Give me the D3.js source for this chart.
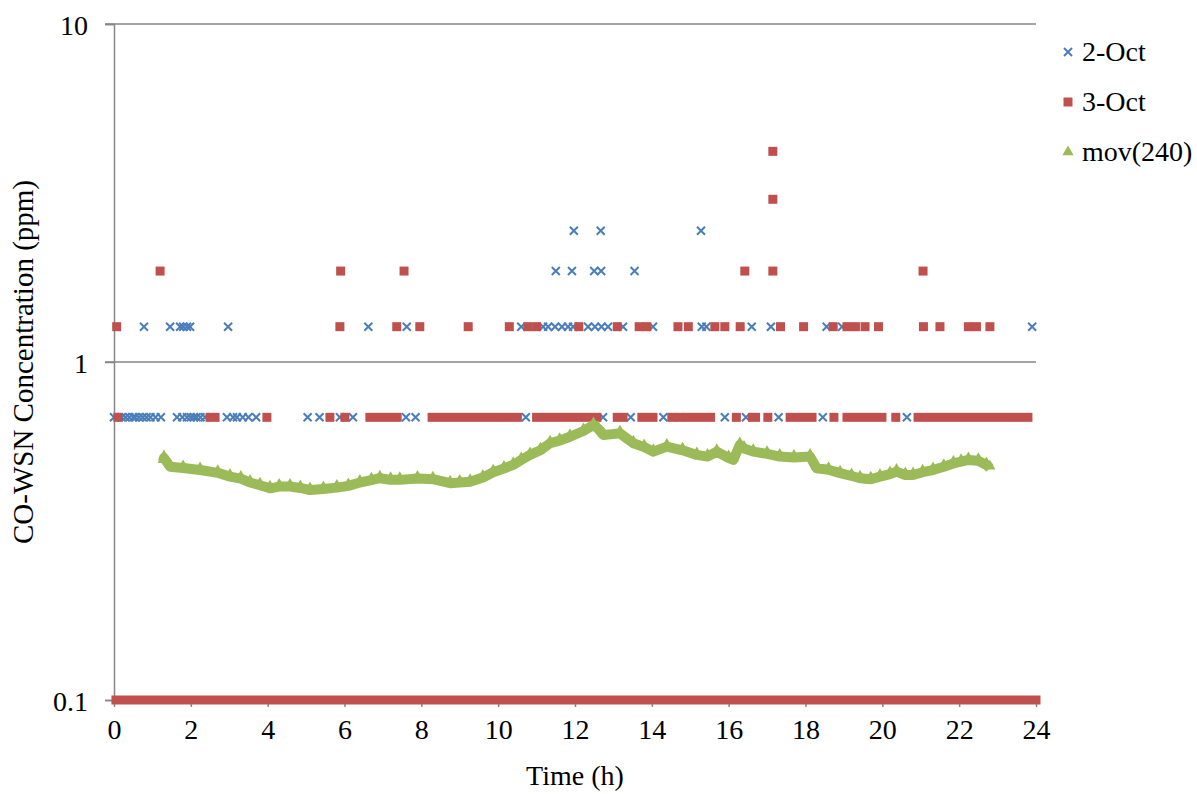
<!DOCTYPE html>
<html>
<head>
<meta charset="utf-8">
<script src="https://cdn.jsdelivr.net/npm/d3@7"></script>
<style>
    html, body { margin: 0; padding: 0; background: #fff; }
</style>
</head>
<body>
<div id="chart"></div>
<script>
// CO-WSN concentration over a day, log scale

const FONT = '"Liberation Serif", "Times New Roman", serif';

// sensor output comes in steps of ~0.586 ppm above the 0.1 floor
const LEVELS = [0.1, 0.686, 1.272, 1.858, 2.444, 3.03, 4.2];

const X_TICKS = [0, 2, 4, 6, 8, 10, 12, 14, 16, 18, 20, 22, 24];
const Y_TICKS = [0.1, 1, 10];

// 2-Oct: hour of each reading, grouped by level
const oct2Level1 = [0.0, 0.2, 0.3, 0.4, 0.5, 0.55, 0.65, 0.75, 0.85, 0.95, 1.08, 1.22,
    1.64, 1.78, 1.9, 2.0, 2.08, 2.15, 2.25, 2.37, 2.94, 3.1, 3.2, 3.35, 3.5, 3.7,
    5.04, 5.35, 5.88, 6.22, 7.6, 7.85, 10.72, 12.73, 13.45, 14.3, 14.73, 15.9,
    16.45, 17.3, 18.45, 20.64];
const oct2Level2 = [0.78, 1.46, 1.72, 1.8, 1.9, 1.98, 2.97, 6.62, 7.62, 10.6, 11.17,
    11.3, 11.48, 11.66, 11.82, 11.95, 12.34, 12.52, 12.69, 12.86, 13.25, 14.03,
    15.3, 15.42, 16.6, 17.1, 18.55, 18.95, 23.9];
const oct2Level3 = [11.5, 11.92, 12.5, 12.68, 13.55];
const oct2Level4 = [11.97, 12.67, 15.28];

// 3-Oct: continuous runs of readings [from, to] per level
const oct3Level0Runs = [[0.05, 24]];
const oct3Level1Runs = [[0.1, 0.1], [2.5, 2.63], [3.98, 3.98], [5.62, 5.62], [6.01, 6.01],
    [6.66, 7.37], [8.28, 10.5], [11.0, 12.57], [13.1, 13.25], [13.74, 14.03],
    [14.52, 15.53], [16.2, 16.2], [16.62, 16.7], [17.02, 17.02], [17.6, 18.17],
    [18.74, 18.74], [19.08, 19.99], [20.35, 20.35], [20.93, 23.79]];
const oct3Level2 = [0.07, 5.88, 7.36, 7.96, 9.22, 10.29, 10.77, 11.0, 12.1, 13.1,
    13.67, 13.87, 14.68, 14.95, 15.64, 15.9, 16.3, 17.35, 17.95, 18.72, 19.08,
    19.3, 19.55, 19.9, 21.07, 21.5, 22.24, 22.45, 22.8];
const oct3Level3 = [1.2, 5.9, 7.55, 16.42, 17.15, 21.06];
const oct3Level5 = [17.15];
const oct3Level6 = [17.15];

// mov(240) moving average
const movHours = [1.28, 1.3, 1.46, 1.8, 2.24, 2.7, 3.02, 3.3, 3.54, 3.8, 4.06, 4.3,
    4.58, 4.85, 5.1, 5.45, 5.8, 6.1, 6.4, 6.7, 6.92, 7.2, 7.44, 7.9, 8.3, 8.75,
    9.0, 9.27, 9.6, 9.87, 10.15, 10.39, 10.6, 10.83, 11.1, 11.35, 11.6, 11.87,
    12.22, 12.48, 12.6, 12.74, 13.17, 13.52, 13.8, 14.04, 14.39, 14.8, 15.17,
    15.45, 15.69, 16.0, 16.12, 16.29, 16.4, 16.64, 17.0, 17.33, 17.7, 18.12,
    18.29, 18.6, 18.9, 19.2, 19.42, 19.7, 19.94, 20.2, 20.37, 20.6, 20.8, 21.05,
    21.32, 21.6, 21.85, 22.05, 22.24, 22.5, 22.71, 22.8];
const movValues = [0.507, 0.52, 0.49, 0.486, 0.479, 0.47, 0.458, 0.452, 0.44, 0.432,
    0.423, 0.428, 0.428, 0.424, 0.418, 0.421, 0.425, 0.43, 0.44, 0.447, 0.453,
    0.448, 0.448, 0.452, 0.45, 0.438, 0.44, 0.442, 0.455, 0.472, 0.484, 0.496,
    0.513, 0.531, 0.548, 0.575, 0.585, 0.601, 0.625, 0.651, 0.635, 0.608, 0.615,
    0.575, 0.56, 0.543, 0.562, 0.548, 0.531, 0.525, 0.543, 0.52, 0.513, 0.568,
    0.555, 0.543, 0.535, 0.525, 0.522, 0.525, 0.485, 0.48, 0.469, 0.46, 0.453,
    0.45, 0.458, 0.466, 0.474, 0.463, 0.463, 0.472, 0.479, 0.49, 0.501, 0.507,
    0.513, 0.51, 0.496, 0.485];

const BLUE = '#4a7ebb';
const RED = '#c0504d';
const GREEN = '#9bbb59';
const AXIS = '#868686';

const width = 1197;
const height = 794;
const margin = { top: 24, right: 161, bottom: 94, left: 114 };

const svg = d3.select('#chart')
    .append('svg')
    .attr('width', width)
    .attr('height', height)
    .attr('font-family', FONT);

const x = d3.scaleLinear()
    .domain([0, 24])
    .range([margin.left, width - margin.right]);

const y = d3.scaleLog()
    .domain([0.1, 10])
    .range([height - margin.bottom, margin.top]);

// gridlines
svg.append('g')
    .selectAll('line')
    .data(Y_TICKS.slice(1))
    .enter()
    .append('line')
    .attr('x1', x(0) - 9)
    .attr('x2', x(24))
    .attr('y1', d => y(d))
    .attr('y2', d => y(d))
    .attr('stroke', AXIS)
    .attr('stroke-width', 1.5);

// y axis
const yAxis = svg.append('g')
    .attr('transform', `translate(${x(0)},0)`)
    .call(d3.axisLeft(y).tickValues(Y_TICKS).tickFormat(d3.format('~g')).tickSize(9).tickPadding(17));
yAxis.attr('font-family', FONT).attr('font-size', 28);
yAxis.select('.domain').attr('stroke', AXIS).attr('stroke-width', 1.5);
yAxis.selectAll('.tick line').attr('stroke', AXIS).attr('stroke-width', 1.5);
yAxis.selectAll('.tick text')
    .attr('fill', '#000')
    .attr('dy', '0.36em');

// x axis
const xAxis = svg.append('g')
    .attr('transform', `translate(0,${y(0.1)})`)
    .call(d3.axisBottom(x).tickValues(X_TICKS).tickSize(7).tickPadding(12).tickSizeOuter(0));
xAxis.attr('font-family', FONT).attr('font-size', 28);
xAxis.select('.domain').attr('stroke', AXIS).attr('stroke-width', 1.5);
xAxis.selectAll('.tick line').attr('stroke', AXIS).attr('stroke-width', 1.5);
xAxis.selectAll('.tick text')
    .attr('fill', '#000')
    .attr('dy', '0.71em');

// axis titles
svg.append('text')
    .attr('x', (x(0) + x(24)) / 2)
    .attr('y', 785)
    .attr('text-anchor', 'middle')
    .attr('font-size', 28)
    .text('Time (h)');

svg.append('text')
    .attr('transform', `translate(33,${y(1)}) rotate(-90)`)
    .attr('text-anchor', 'middle')
    .attr('font-size', 29)
    .text('CO-WSN Concentration (ppm)');

const plot = svg.append('g');

// 2-Oct crosses
const crossPath = 'M-4,-4L4,4M-4,4L4,-4';
const oct2Points = [
    ...oct2Level1.map(t => [t, LEVELS[1]]),
    ...oct2Level2.map(t => [t, LEVELS[2]]),
    ...oct2Level3.map(t => [t, LEVELS[3]]),
    ...oct2Level4.map(t => [t, LEVELS[4]])
];
plot.append('g')
    .selectAll('path')
    .data(oct2Points)
    .enter()
    .append('path')
    .attr('d', crossPath)
    .attr('transform', d => `translate(${x(d[0])},${y(d[1])})`)
    .attr('stroke', BLUE)
    .attr('stroke-width', 2)
    .attr('fill', 'none');

// 3-Oct squares, runs of touching squares drawn as one band
const sq = 9;
const oct3Runs = [
    ...oct3Level0Runs.map(r => [r[0], r[1], LEVELS[0]]),
    ...oct3Level1Runs.map(r => [r[0], r[1], LEVELS[1]]),
    ...oct3Level2.map(t => [t, t, LEVELS[2]]),
    ...oct3Level3.map(t => [t, t, LEVELS[3]]),
    ...oct3Level5.map(t => [t, t, LEVELS[5]]),
    ...oct3Level6.map(t => [t, t, LEVELS[6]])
];
plot.append('g')
    .selectAll('rect')
    .data(oct3Runs)
    .enter()
    .append('rect')
    .attr('x', d => x(d[0]) - sq / 2)
    .attr('y', d => y(d[2]) - sq / 2)
    .attr('width', d => x(d[1]) - x(d[0]) + sq)
    .attr('height', sq)
    .attr('fill', RED);

// mov(240)
const movData = movHours.map((t, i) => [t, movValues[i]]);
const line = d3.line()
    .x(d => x(d[0]))
    .y(d => y(d[1]));
plot.append('path')
    .datum(movData)
    .attr('d', line)
    .attr('fill', 'none')
    .attr('stroke', GREEN)
    .attr('stroke-width', 10)
    .attr('stroke-linejoin', 'round');

const tri = d3.symbol().type(d3.symbolTriangle).size(55);
plot.append('g')
    .selectAll('path')
    .data(movData)
    .enter()
    .append('path')
    .attr('d', tri)
    .attr('transform', d => `translate(${x(d[0])},${y(d[1]) - 2})`)
    .attr('fill', GREEN);

// legend
const legendItems = [
    { label: '2-Oct', kind: 'cross' },
    { label: '3-Oct', kind: 'square' },
    { label: 'mov(240)', kind: 'triangle' }
];
const legend = svg.append('g')
    .attr('transform', 'translate(1068,52)');
legendItems.forEach((item, i) => {
    const g = legend.append('g').attr('transform', `translate(0,${i * 50})`);
    if (item.kind === 'cross') {
        g.append('path').attr('d', crossPath)
            .attr('stroke', BLUE).attr('stroke-width', 2).attr('fill', 'none');
    } else if (item.kind === 'square') {
        g.append('rect').attr('x', -sq / 2).attr('y', -sq / 2)
            .attr('width', sq).attr('height', sq).attr('fill', RED);
    } else {
        g.append('path').attr('d', tri).attr('fill', GREEN);
    }
    g.append('text')
        .attr('x', 14)
        .attr('y', 9)
        .attr('font-size', 28)
        .text(item.label);
});
</script>
</body>
</html>
